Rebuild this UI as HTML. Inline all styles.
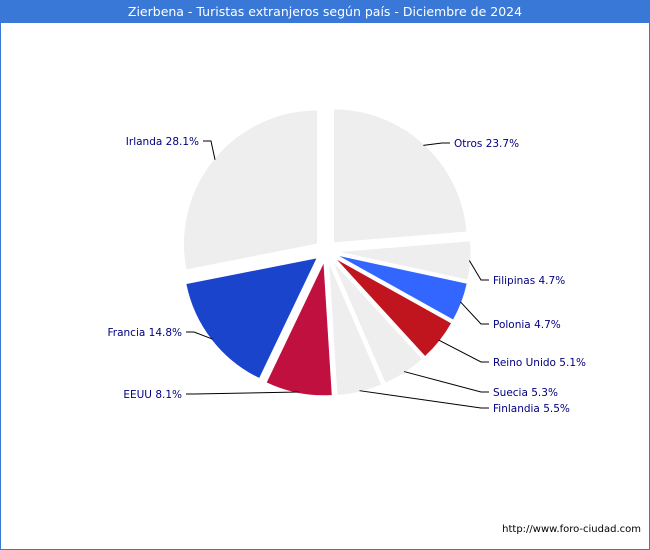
<!DOCTYPE html>
<html><head><meta charset="utf-8"><style>
body{margin:0;background:#fff;}
#c{position:relative;width:648px;height:548px;border:1px solid #3a78d8;background:#fff;font-family:"DejaVu Sans","Liberation Sans",sans-serif;}
#t{height:22px;background:#3a78d8;color:#fff;font-size:12.5px;text-align:center;line-height:22px;}
</style></head><body>
<div id="c">
<div id="t">Zierbena - Turistas extranjeros según país - Diciembre de 2024</div>
<svg id="s" width="648" height="526" style="position:absolute;left:0;top:22px">
<text x="640" y="509" font-size="10" text-anchor="end" fill="#000" font-family="DejaVu Sans, Liberation Sans, sans-serif">http://www.foro-ciudad.com</text>
</svg>
</div>
<script>
const categories=["Otros","Filipinas","Polonia","Reino Unido","Suecia","Finlandia","EEUU","Francia","Irlanda"];
const values=[23.7,4.7,4.7,5.1,5.3,5.5,8.1,14.8,28.1];
const colors=["#eeeeee","#eeeeee","#3366ff","#c0141e","#eeeeee","#eeeeee","#c01040","#1a44cc","#eeeeee"];
const labelY=[120,257,301,339,369,385,371,309,118];
const labelX=[453,492,492,492,492,492,181,181,198];
const svg=document.getElementById('s');
const NS="http://www.w3.org/2000/svg";
const cx=325,cy=228,r=134,ex=11;
const total=values.reduce((a,b)=>a+b,0);
let a0=0;
function pt(a,rad,ox,oy){return [cx+ox+rad*Math.sin(a),cy+oy-rad*Math.cos(a)];}
values.forEach((v,i)=>{
  const a1=a0+v/total*2*Math.PI, m=(a0+a1)/2;
  const ox=ex*Math.sin(m), oy=-ex*Math.cos(m);
  const p0=pt(a0,r,ox,oy),p1=pt(a1,r,ox,oy);
  const large=(a1-a0)>Math.PI?1:0;
  const path=document.createElementNS(NS,'path');
  path.setAttribute('d',`M${cx+ox},${cy+oy}L${p0[0]},${p0[1]}A${r},${r} 0 ${large} 1 ${p1[0]},${p1[1]}Z`);
  path.setAttribute('fill',colors[i]);
  path.setAttribute('stroke','#fff');path.setAttribute('stroke-width','1');
  
  
  svg.appendChild(path);
  const e=pt(m,r*0.99,ox,oy);
  const right=Math.sin(m)>=0;
  const ly=labelY[i];
  const lx=labelX[i];
  const kx=right?lx-12:lx+12;
  const line=document.createElementNS(NS,'polyline');
  line.setAttribute('points',`${e[0]},${e[1]} ${kx},${ly} ${right?lx-4:lx+4},${ly}`);
  line.setAttribute('fill','none');line.setAttribute('stroke','#000');line.setAttribute('stroke-width','1');
  
  
  svg.appendChild(line);
  const t=document.createElementNS(NS,'text');
  t.setAttribute('x',lx);t.setAttribute('y',ly+4);
  t.setAttribute('text-anchor',right?'start':'end');
  t.setAttribute('font-size','10.5');t.setAttribute('fill','#000080');
  t.textContent=categories[i]+' '+v.toFixed(1)+'%';
  
  
  svg.appendChild(t);
  a0=a1;
});
</script>
</body></html>
